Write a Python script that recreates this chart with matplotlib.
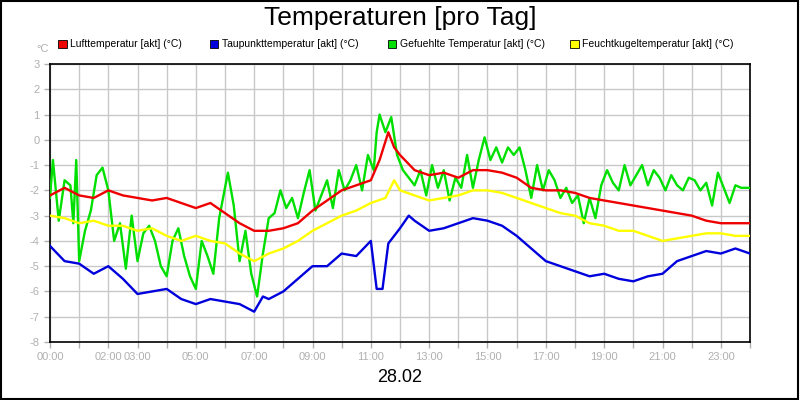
import matplotlib
matplotlib.use("Agg")
import matplotlib.pyplot as plt
from matplotlib.patches import Rectangle

tick_hours = list(range(0, 25))
tick_labels = ["00:00", "", "02:00", "03:00", "", "05:00", "", "07:00", "", "09:00", "", "11:00", "",
               "13:00", "", "15:00", "", "17:00", "", "19:00", "", "21:00", "", "23:00", ""]

t_std = [0,0.5,1,1.5,2,2.5,3,3.5,4,4.5,5,5.5,6,6.5,7,7.5,8,8.5,9,9.5,10,10.5,11,11.3,11.6,11.8,12,12.5,13,13.5,14,14.5,15,15.5,16,16.5,17,17.5,18,18.5,19,19.5,20,20.5,21,21.5,22,22.5,23,23.5,24]
luft = [-2.2,-1.9,-2.2,-2.3,-2.0,-2.2,-2.3,-2.4,-2.3,-2.5,-2.7,-2.5,-2.9,-3.3,-3.6,-3.6,-3.5,-3.3,-2.8,-2.4,-2.0,-1.8,-1.6,-0.8,0.3,-0.3,-0.6,-1.2,-1.4,-1.3,-1.5,-1.2,-1.2,-1.3,-1.5,-1.9,-2.0,-2.0,-2.1,-2.3,-2.4,-2.5,-2.6,-2.7,-2.8,-2.9,-3.0,-3.2,-3.3,-3.3,-3.3]

t_yel = [0,0.5,1,1.5,2,2.5,3,3.5,4,4.5,5,5.5,6,6.5,7,7.5,8,8.5,9,9.5,10,10.5,11,11.5,11.8,12,12.5,13,13.5,14,14.5,15,15.5,16,16.5,17,17.5,18,18.5,19,19.5,20,20.5,21,21.5,22,22.5,23,23.5,24]
feucht = [-3.0,-3.1,-3.3,-3.2,-3.4,-3.4,-3.6,-3.5,-3.8,-4.0,-3.8,-4.0,-4.1,-4.5,-4.8,-4.5,-4.3,-4.0,-3.6,-3.3,-3.0,-2.8,-2.5,-2.3,-1.6,-2.0,-2.2,-2.4,-2.3,-2.2,-2.0,-2.0,-2.1,-2.3,-2.5,-2.7,-2.9,-3.0,-3.3,-3.4,-3.6,-3.6,-3.8,-4.0,-3.9,-3.8,-3.7,-3.7,-3.8,-3.8]

t_blue = [0,0.5,1,1.5,2,2.5,3,3.5,4,4.5,5,5.5,6,6.5,7,7.3,7.5,8,8.5,9,9.5,10,10.5,11,11.2,11.4,11.6,12,12.3,12.5,13,13.5,14,14.5,15,15.5,16,16.5,17,17.5,18,18.5,19,19.5,20,20.5,21,21.5,22,22.5,23,23.5,24]
taupunkt = [-4.2,-4.8,-4.9,-5.3,-5.0,-5.5,-6.1,-6.0,-5.9,-6.3,-6.5,-6.3,-6.4,-6.5,-6.8,-6.2,-6.3,-6.0,-5.5,-5.0,-5.0,-4.5,-4.6,-4.0,-5.9,-5.9,-4.1,-3.5,-3.0,-3.2,-3.6,-3.5,-3.3,-3.1,-3.2,-3.4,-3.8,-4.3,-4.8,-5.0,-5.2,-5.4,-5.3,-5.5,-5.6,-5.4,-5.3,-4.8,-4.6,-4.4,-4.5,-4.3,-4.5]

t_green = [0,0.1,0.3,0.5,0.7,0.8,0.9,1.0,1.2,1.4,1.6,1.8,2.0,2.2,2.4,2.6,2.8,3.0,3.2,3.4,3.6,3.8,4.0,4.2,4.4,4.6,4.8,5.0,5.2,5.4,5.6,5.8,6.0,6.1,6.3,6.5,6.7,6.9,7.1,7.3,7.5,7.7,7.9,8.1,8.3,8.5,8.7,8.9,9.1,9.3,9.5,9.7,9.9,10.1,10.3,10.5,10.7,10.9,11.1,11.2,11.3,11.5,11.7,11.9,12.1,12.3,12.5,12.7,12.9,13.1,13.3,13.5,13.7,13.9,14.1,14.3,14.5,14.7,14.9,15.1,15.3,15.5,15.7,15.9,16.1,16.3,16.5,16.7,16.9,17.1,17.3,17.5,17.7,17.9,18.1,18.3,18.5,18.7,18.9,19.1,19.3,19.5,19.7,19.9,20.1,20.3,20.5,20.7,20.9,21.1,21.3,21.5,21.7,21.9,22.1,22.3,22.5,22.7,22.9,23.1,23.3,23.5,23.7,24]
gefuehlt = [-2.3,-0.8,-3.2,-1.6,-1.8,-3.3,-0.8,-4.8,-3.6,-2.8,-1.4,-1.1,-2.0,-4.0,-3.3,-5.1,-3.0,-4.8,-3.7,-3.4,-4.0,-5.0,-5.4,-4.0,-3.5,-4.6,-5.4,-5.9,-4.0,-4.6,-5.3,-3.1,-1.9,-1.3,-2.6,-4.8,-3.6,-5.3,-6.2,-4.5,-3.1,-2.9,-2.0,-2.7,-2.3,-3.1,-2.1,-1.2,-2.8,-2.2,-1.6,-2.7,-1.2,-2.0,-1.6,-1.0,-2.0,-0.6,-1.2,0.3,1.0,0.3,0.9,-0.6,-1.2,-1.5,-1.8,-1.2,-2.2,-1.0,-1.9,-1.2,-2.4,-1.5,-1.9,-0.6,-1.9,-0.8,0.1,-0.8,-0.3,-0.9,-0.3,-0.6,-0.3,-1.2,-2.3,-1.0,-2.0,-1.2,-1.6,-2.3,-1.9,-2.5,-2.2,-3.3,-2.3,-3.1,-1.8,-1.2,-1.7,-2.0,-1.0,-1.8,-1.4,-1.0,-1.8,-1.2,-1.5,-2.0,-1.4,-1.8,-2.0,-1.5,-1.6,-2.0,-1.7,-2.6,-1.3,-1.9,-2.5,-1.8,-1.9,-1.9]

fig = plt.figure(figsize=(8, 4), dpi=100)
fig.patch.set_facecolor("white")
fig.add_artist(Rectangle((0.001, 0.002), 0.997, 0.996, transform=fig.transFigure,
                         fill=False, edgecolor="black", linewidth=1.5))
ax = fig.add_axes([0.0625, 0.145, 0.875, 0.695])
gray = "#b0b0b0"
ax.plot(t_green, gefuehlt, color="#00e000", lw=1.7, zorder=3)
ax.plot(t_yel, feucht, color="#ffff00", lw=1.7, zorder=4)
ax.plot(t_std, luft, color="#ee0000", lw=1.7, zorder=5)
ax.plot(t_blue, taupunkt, color="#0000dd", lw=1.7, zorder=6)
ax.set_xlim(0, 24)
ax.set_ylim(-8, 3)
ax.set_xticks(tick_hours)
ax.set_xticklabels(tick_labels, family="Liberation Sans")
ax.set_yticks(range(-8, 4))
ax.set_yticklabels([str(v) for v in range(-8, 4)], family="Liberation Sans")
ax.grid(True, color="#c8c8c8", lw=1)
ax.tick_params(colors=gray, labelcolor=gray, labelsize=8, length=4, width=1)
for s in ax.spines.values():
    s.set_color("black"); s.set_linewidth(1.2)
fig.text(0.5, 0.955, "Temperaturen [pro Tag]", ha="center", va="center", fontsize=19, family="Liberation Sans")
fig.text(0.5, 0.055, "28.02", ha="center", va="center", fontsize=13, family="Liberation Sans")
fig.text(0.046, 0.877, "°C", ha="left", va="center", fontsize=8, color=gray, family="Liberation Sans")
legend = [("Lufttemperatur [akt] (°C)", "#ee0000", 0.073),
          ("Taupunkttemperatur [akt] (°C)", "#0000dd", 0.262),
          ("Gefuehlte Temperatur [akt] (°C)", "#00e000", 0.485),
          ("Feuchtkugeltemperatur [akt] (°C)", "#ffff00", 0.713)]
for txt, c, x in legend:
    fig.add_artist(Rectangle((x, 0.880), 0.0105, 0.021, transform=fig.transFigure,
                             facecolor=c, edgecolor="black", lw=0.6))
    fig.text(x + 0.015, 0.890, txt, ha="left", va="center", fontsize=7.5, family="Liberation Sans")
fig.savefig("out.png", dpi=100)
